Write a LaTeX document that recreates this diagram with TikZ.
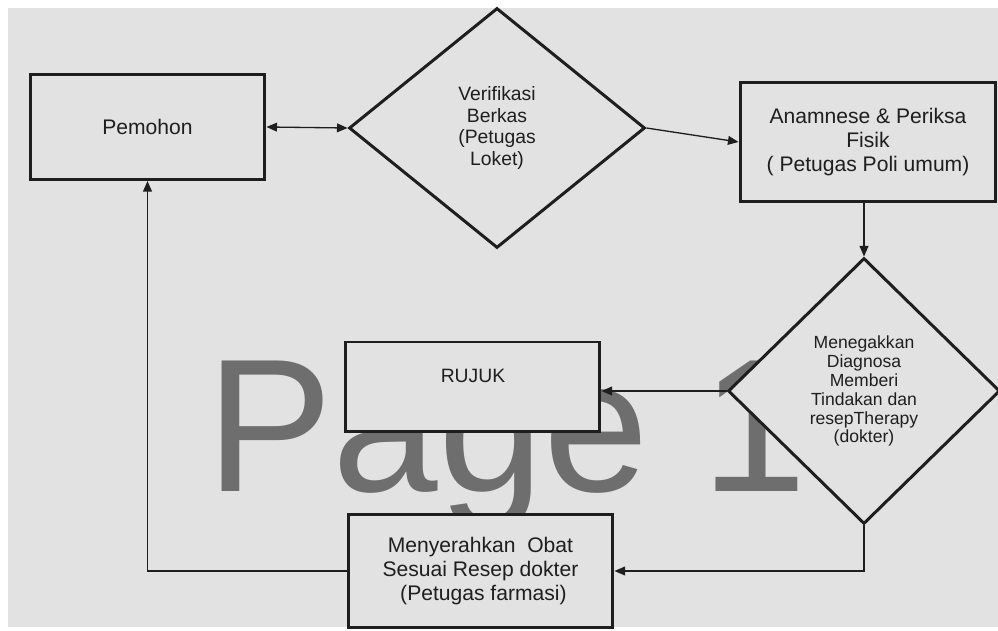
\documentclass[tikz,border=0pt]{standalone}
\usepackage{fontspec}
\setmainfont{Liberation Sans}
\usetikzlibrary{shapes.geometric,arrows.meta}
\definecolor{bg}{HTML}{E2E2E2}
\definecolor{ink}{HTML}{1E1E1E}
\definecolor{wm}{HTML}{6E6E6E}
\begin{document}
\begin{tikzpicture}[x=0.02cm,y=-0.02cm,
  box/.style={draw=ink,line width=1.7pt,fill=bg,rectangle,inner sep=0pt,align=center,text=ink},
  dia/.style={draw=ink,line width=1.7pt,fill=bg,diamond,inner sep=0pt,align=center,text=ink},
  conn/.style={draw=ink,line width=0.75pt},
  tip/.style={-{Triangle[length=6pt,width=5pt]}},
  dtip/.style={{Triangle[length=6pt,width=5pt]}-{Triangle[length=6pt,width=5pt]}}
]
\useasboundingbox (0,0) rectangle (998,631);
\fill[white] (0,0) rectangle (998,631);
\fill[bg] (8,8) rectangle (998,627);
\node[anchor=base west, text=wm, font=\fontsize{108}{108}\selectfont, inner sep=0pt] (wmark) at (206,492) {Page 1};

\node[box, minimum width=4.7cm, minimum height=2.1cm, font=\fontsize{12}{13.6}\selectfont] (pemohon) at (147.5,127) {Pemohon};
\node[dia, minimum width=5.92cm, minimum height=4.8cm, font=\fontsize{11}{12.5}\selectfont] (verif) at (497,128) {Verifikasi\\Berkas\\(Petugas\\Loket)};
\node[box, minimum width=5.12cm, minimum height=2.4cm, font=\fontsize{12}{13.6}\selectfont] (anam) at (868,142) {Anamnese \& Periksa\\Fisik\\( Petugas Poli umum)};
\node[dia, minimum width=5.44cm, minimum height=5.32cm, font=\fontsize{10}{10.8}\selectfont] (mene) at (864,391) {Menegakkan\\Diagnosa\\Memberi\\Tindakan dan\\resepTherapy\\(dokter)};
\node[box, minimum width=5.1cm, minimum height=1.8cm] (rujuk) at (472.5,387) {};
\node[font=\fontsize{11}{13}\selectfont, text=ink, inner sep=0pt] (rujuktxt) at (473,376) {RUJUK};
\node[box, minimum width=5.3cm, minimum height=2.28cm, font=\fontsize{12}{13.6}\selectfont] (obat) at (480.5,571) {Menyerahkan\ \ Obat\\Sesuai Resep dokter\\\ (Petugas farmasi)};

\draw[conn,dtip] (pemohon.east) -- (verif.west);
\draw[conn,tip] (verif.east) -- (anam.west);
\draw[conn,tip] (anam.south -| mene.north) -- (mene.north);
\draw[conn,tip] (mene.west) -- (mene.west -| rujuk.east);
\draw[conn,tip] (mene.south) |- (obat.east);
\draw[conn,tip] (obat.west) -| (pemohon.south);
\end{tikzpicture}
\end{document}
